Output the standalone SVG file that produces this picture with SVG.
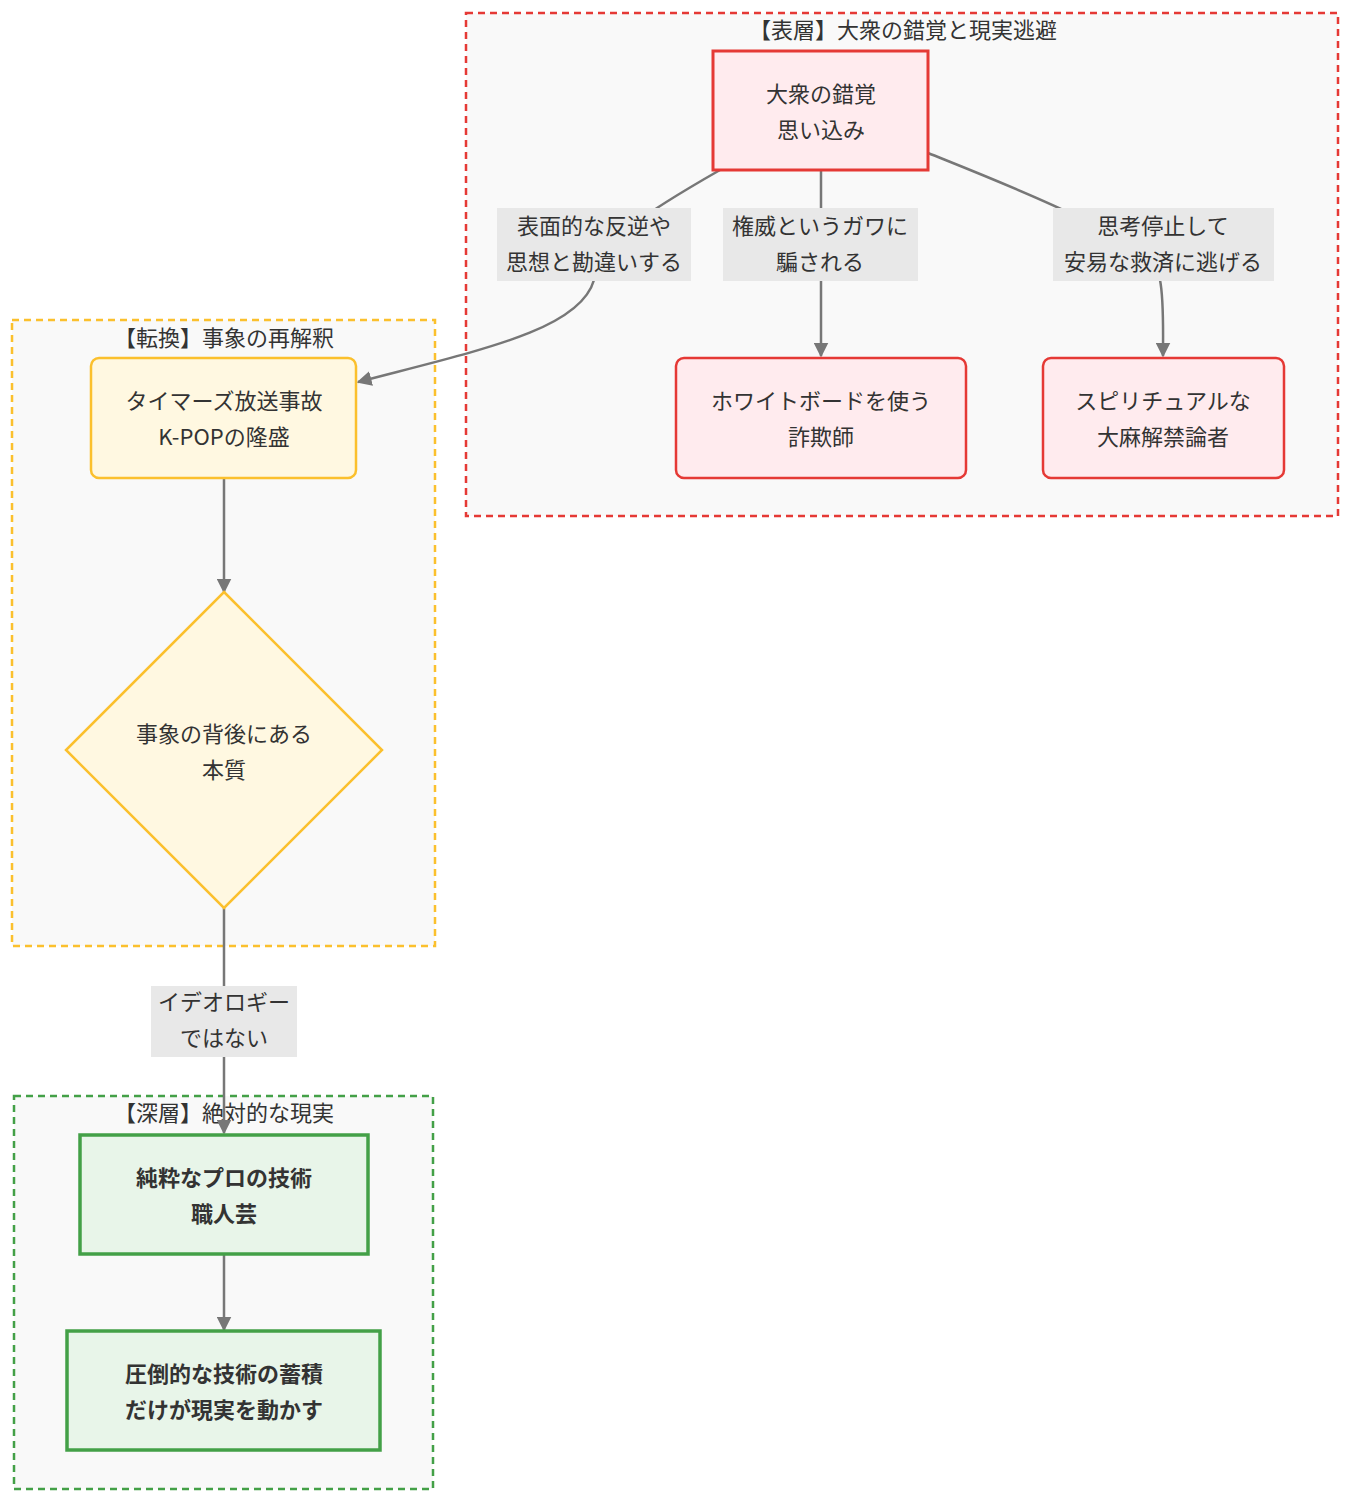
<svg xmlns="http://www.w3.org/2000/svg" width="1350" height="1501" viewBox="0 0 1350 1501">
<style>
text{font-family:"Noto Sans CJK JP","Noto Sans",sans-serif;font-size:22px;fill:#333;text-anchor:middle}
.b{font-weight:bold}
.cl{fill:#f9f9f9;stroke-width:2.5;stroke-dasharray:7 5}
.e{fill:none;stroke:#777;stroke-width:2.5}
.lb{fill:#e8e8e8}
</style>
<defs><marker id="a" viewBox="0 0 10 10" refX="9" refY="5" markerWidth="6" markerHeight="6" orient="auto"><path d="M0,0L10,5L0,10z" fill="#777"/></marker></defs>
<g id="clusters">
<rect class="cl" x="466" y="13" width="872" height="503" stroke="#e53935"/>
<text x="903" y="38">【表層】大衆の錯覚と現実逃避</text>
<rect class="cl" x="12" y="320" width="423" height="626" stroke="#fbc02d"/>
<text x="224" y="346">【転換】事象の再解釈</text>
<rect class="cl" x="14" y="1096" width="419" height="393" stroke="#43a047"/>
<text x="224" y="1121">【深層】絶対的な現実</text>
</g>
<g id="connectors">
<path class="e" d="M720,170 C650,210 600,240 594,280 C580,330 480,350 358,382" marker-end="url(#a)"/>
<path class="e" d="M821,170 L821,356" marker-end="url(#a)"/>
<path class="e" d="M928,153 C1020,190 1150,240 1160,280 C1164,300 1163,330 1163,356" marker-end="url(#a)"/>
<path class="e" d="M224,478 L224,592" marker-end="url(#a)"/>
<path class="e" d="M224,908 L224,1133" marker-end="url(#a)"/>
<path class="e" d="M224,1254 L224,1330" marker-end="url(#a)"/>
<rect class="lb" x="497" y="208" width="194" height="73"/>
<text x="594" y="234">表面的な反逆や</text><text x="594" y="270">思想と勘違いする</text>
<rect class="lb" x="723" y="208" width="195" height="73"/>
<text x="820" y="234">権威というガワに</text><text x="820" y="270">騙される</text>
<rect class="lb" x="1053" y="208" width="221" height="73"/>
<text x="1163" y="234">思考停止して</text><text x="1163" y="270">安易な救済に逃げる</text>
<rect class="lb" x="151" y="986" width="146" height="71"/>
<text x="224" y="1010">イデオロギー</text><text x="224" y="1046">ではない</text>
</g>
<g id="n1"><rect x="713" y="51" width="215" height="119" fill="#ffebee" stroke="#e53935" stroke-width="3"/>
<text x="821" y="102">大衆の錯覚</text><text x="821" y="138">思い込み</text></g>
<g id="n2"><rect x="676" y="358" width="290" height="120" rx="8" fill="#ffebee" stroke="#e53935" stroke-width="2.5"/>
<text x="821" y="409">ホワイトボードを使う</text><text x="821" y="445">詐欺師</text></g>
<g id="n3"><rect x="1043" y="358" width="241" height="120" rx="8" fill="#ffebee" stroke="#e53935" stroke-width="2.5"/>
<text x="1163" y="409">スピリチュアルな</text><text x="1163" y="445">大麻解禁論者</text></g>
<g id="n4"><rect x="91" y="358" width="265" height="120" rx="8" fill="#fff8e1" stroke="#fbc02d" stroke-width="2.5"/>
<text x="224" y="409">タイマーズ放送事故</text><text x="224" y="445">K-POPの隆盛</text></g>
<g id="n5"><polygon points="224,592 382,750 224,908 66,750" fill="#fff8e1" stroke="#fbc02d" stroke-width="2.5"/>
<text x="224" y="742">事象の背後にある</text><text x="224" y="778">本質</text></g>
<g id="n6"><rect x="80" y="1135" width="288" height="119" fill="#e8f5e9" stroke="#43a047" stroke-width="3.5"/>
<text class="b" x="224" y="1186">純粋なプロの技術</text><text class="b" x="224" y="1222">職人芸</text></g>
<g id="n7"><rect x="67" y="1331" width="313" height="119" fill="#e8f5e9" stroke="#43a047" stroke-width="3.5"/>
<text class="b" x="224" y="1382">圧倒的な技術の蓄積</text><text class="b" x="224" y="1418">だけが現実を動かす</text></g>
</svg>
